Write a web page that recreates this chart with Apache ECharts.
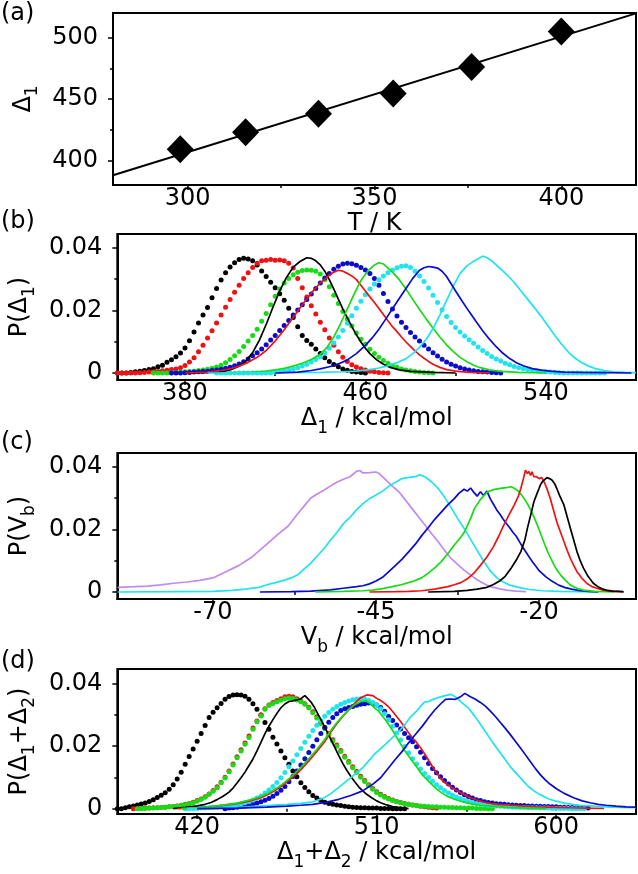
<!DOCTYPE html>
<html><head><meta charset="utf-8">
<script src="https://cdn.jsdelivr.net/npm/echarts@6/dist/echarts.min.js"></script>
<style>html,body{margin:0;padding:0;background:#fff}#c{width:638px;height:874px}</style>
</head><body><div id="c"></div>
<script>
// ---------- Panel (a) ----------
const aT = [298, 315.5, 335, 355, 376, 400];
const aD1 = [409, 423, 438, 454.5, 476, 505];
const aFit = [[280, 388], [420, 519.7]];

// ---------- Panel (b): dotted series, sampled every 2 kcal/mol ----------
const bBlackDotX0 = 350;
const bBlackDotY = [0,0,0,.0002,.0004,.0006,.0008,.0011,.0014,.002,.0025,.0034,.0042,.0052,.0064,.008,.0103,.0131,.016,.0185,.0209,.024,.027,.0297,.032,.0338,.0352,.0362,.0366,.0364,.0358,.0345,.0326,.0308,.029,.0272,.0253,.0232,.0207,.0177,.0148,.012,.0104,.0092,.0077,.0062,.0049,.0037,.0027,.002,.0013,.0009,.0005,.0003,.0002,0];
const bRedDotX0 = 350;
const bRedDotY = [0,0,0,0,0,.0001,.0002,.0003,.0004,.0005,.0007,.0009,.0011,.0013,.0017,.0024,.0035,.0049,.0068,.0089,.0112,.0135,.016,.0185,.021,.0235,.0258,.028,.0302,.032,.0337,.035,.0358,.036,.0362,.036,.0361,.0358,.035,.0335,.0302,.0272,.0243,.0215,.0188,.0162,.0138,.0112,.0089,.0068,.005,.0037,.0026,.0019,.0014,.001,.0006,.0004,.0002,.0001,0];
const bGreenDotX0 = 366;
const bGreenDotY = [0,0,0,0,.0001,.0002,.0003,.0004,.0005,.0006,.0008,.001,.0012,.0015,.0019,.0025,.0033,.0043,.0055,.0069,.0085,.0102,.012,.014,.0165,.019,.0218,.0245,.0268,.0287,.0302,.0314,.0322,.0327,.0329,.0328,.0325,.0316,.0298,.0275,.0248,.0222,.0196,.0172,.015,.0128,.0108,.0092,.0076,.0062,.005,.004,.0031,.0024,.0018,.0013,.001,.0007,.0005,.0003,.0002,.0001,0];
const bBlueDotX0 = 374;
const bBlueDotY = [0,0,0,.0001,.0002,.0003,.0004,.0005,.0006,.0008,.001,.0012,.0015,.0018,.0023,.0029,.0036,.0045,.0055,.0065,.0077,.009,.0105,.012,.0136,.0152,.0168,.0185,.0201,.0218,.0235,.0252,.027,.0287,.0303,.0318,.0331,.0341,.0348,.035,.0349,.0344,.0337,.0329,.0318,.0302,.028,.0254,.0228,.0204,.0182,.0162,.0145,.0129,.0115,.0102,.0089,.0077,.0065,.0054,.0044,.0035,.0028,.0022,.0017,.0013,.001,.0007,.0005,.0004,.0003,.0002,.0001,0];
const bCyanDotX0 = 394;
const bCyanDotY = [0,0,0,0,0,0,0,0,0,0,0,0,0,.0003,.0005,.0007,.001,.0013,.0017,.0022,.0028,.0035,.0043,.0052,.0064,.0079,.0096,.0115,.0136,.0159,.0183,.0207,.0229,.025,.0268,.0284,.0298,.031,.032,.0329,.0336,.0341,.0342,.0337,.0325,.031,.0292,.0271,.0248,.0225,.0202,.018,.0161,.0145,.0131,.0118,.0106,.0095,.0083,.0072,.0062,.0053,.0045,.0038,.0031,.0026,.0021,.0017,.0014,.0011,.0009,.0007,.0005,.0004,.0003,.0002,.0001,0,0,0,0,0,0,0,0,0,0];

// ---------- Panel (b): solid lines, [Δ1, P] ----------
const bBlackLine = [[380,0],[395,.0003],[400,.001],[404,.0022],[407,.0038],[410,.0065],[413,.0105],[416,.0155],[419,.021],[422,.0262],[425,.0305],[428,.0338],[431,.0356],[434,.0368],[436,.0366],[438,.0358],[440,.0345],[442,.0325],[444,.0298],[446,.0268],[448,.0236],[450,.0205],[452,.0176],[454,.0148],[456,.0122],[458,.0099],[460,.0079],[462,.0062],[465,.0042],[468,.0028],[471,.0018],[475,.001],[480,.0005],[490,.0002],[500,0]];
const bRedLine = [[380,0],[390,.0003],[396,.0008],[400,.0013],[404,.0022],[408,.0034],[412,.005],[416,.0072],[420,.0102],[424,.0138],[428,.0178],[432,.0218],[436,.0255],[440,.0288],[444,.0312],[446,.0322],[448,.0328],[450,.0325],[452,.0318],[454,.031],[456,.0298],[458,.028],[460,.0262],[462,.0243],[464,.0225],[466,.0206],[468,.0187],[470,.0167],[472,.0148],[474,.0132],[476,.0115],[478,.0099],[480,.0085],[482,.0071],[484,.0058],[486,.0047],[488,.0037],[490,.0028],[493,.0018],[496,.0011],[500,.0006],[506,.0002],[515,0]];
const bGreenLine = [[400,0],[410,.0003],[416,.0006],[420,.001],[424,.0015],[428,.0022],[432,.0031],[436,.0043],[440,.006],[443,.0082],[446,.0115],[449,.0158],[452,.0205],[455,.0252],[458,.0295],[461,.0325],[464,.0345],[466,.0352],[468,.0348],[470,.0335],[472,.0322],[475,.0298],[478,.0268],[481,.0235],[484,.0203],[487,.0172],[490,.0143],[493,.0115],[496,.009],[499,.0068],[502,.005],[505,.0036],[508,.0025],[511,.0017],[515,.001],[520,.0005],[528,.0002],[540,0]];
const bBlueLine = [[420,0],[430,.0003],[436,.0008],[440,.0013],[444,.002],[448,.0029],[452,.0042],[456,.0062],[460,.0088],[463,.0112],[466,.014],[469,.0172],[472,.0205],[475,.0238],[478,.027],[481,.0302],[484,.0328],[486,.0336],[488,.034],[490,.0338],[492,.0335],[494,.0325],[496,.0308],[498,.0285],[500,.0262],[503,.0228],[506,.0196],[509,.0165],[512,.0135],[515,.0108],[518,.0084],[521,.0063],[524,.0046],[527,.0033],[530,.0023],[534,.0014],[538,.0009],[542,.0006],[548,.0003],[556,.0002],[566,.0001],[578,0]];
const bCyanLine = [[390,0],[440,.0002],[450,.0004],[456,.0006],[462,.0011],[466,.0016],[470,.0023],[474,.0033],[478,.0046],[481,.0062],[484,.0082],[487,.0108],[490,.0142],[493,.0185],[496,.0232],[499,.0278],[502,.0318],[505,.0342],[508,.0357],[510,.0365],[512,.0373],[514,.0368],[516,.0358],[518,.0345],[520,.0332],[523,.0312],[526,.0289],[529,.0262],[532,.0235],[535,.0208],[538,.018],[541,.015],[544,.012],[547,.0092],[550,.0067],[553,.0047],[556,.0033],[559,.0022],[562,.0014],[566,.0008],[570,.0004],[575,.0002],[580,.0001]];

// ---------- Panel (c): [Vb, P] ----------
const cPurple = [[-84.6,.0015],[-82,.0017],[-80,.0019],[-78,.0023],[-76,.0028],[-74,.0032],[-72,.0037],[-70,.0045],[-68,.0065],[-66,.0085],[-64,.0112],[-62,.0148],[-60,.0185],[-58.5,.021],[-57,.025],[-56,.0275],[-55,.03],[-54,.0313],[-53,.0325],[-52,.0338],[-51,.035],[-50,.036],[-49,.0368],[-48,.0385],[-47.5,.0388],[-47,.038],[-46,.0381],[-45,.0383],[-44.5,.0378],[-43.5,.0358],[-42.5,.0338],[-41.5,.032],[-40.5,.0294],[-39.5,.0267],[-38.5,.024],[-37.5,.0214],[-36.5,.0187],[-35.5,.0161],[-34.5,.0133],[-33.5,.0107],[-32.5,.0088],[-31.5,.007],[-30.5,.0054],[-29.5,.0039],[-28.5,.0027],[-27.5,.0017],[-26,.001],[-25,.0006],[-23.5,.0003],[-22,.0001]];
const cCyan = [[-84.6,0],[-76,.0001],[-70,.0002],[-67,.0005],[-65,.0009],[-63,.0015],[-61,.0027],[-59,.0038],[-58,.0045],[-57,.0055],[-56,.0074],[-55,.0092],[-54,.0115],[-53,.0138],[-52,.0165],[-51,.019],[-50,.0218],[-49,.0238],[-48,.0262],[-47,.0282],[-46,.0298],[-45,.031],[-44,.0322],[-43,.0338],[-42,.035],[-41,.0362],[-40,.0366],[-39,.0368],[-38.3,.0374],[-37.5,.0368],[-36.5,.0352],[-35.5,.0331],[-34.5,.0303],[-33.5,.027],[-32.5,.0235],[-31.5,.0203],[-30.5,.0168],[-29.5,.0133],[-28.5,.0098],[-27.5,.0068],[-26.5,.0046],[-25.5,.0032],[-24.5,.0022],[-23,.0014],[-21.5,.0008],[-19.5,.0004],[-17,.0002],[-14,.0001],[-11,0]];
const cBlue = [[-62.8,0],[-58,.0001],[-55,.0003],[-52,.0007],[-50,.0012],[-48,.0017],[-47,.002],[-46,.0026],[-45,.0035],[-44,.0047],[-43,.0066],[-42,.0085],[-41,.0105],[-40,.0128],[-39,.0152],[-38,.018],[-37,.0205],[-36,.0232],[-35,.0255],[-34,.0278],[-33,.0298],[-32.3,.0315],[-31.5,.0328],[-31,.0322],[-30.5,.0332],[-30,.0318],[-29.5,.0306],[-29,.032],[-28.5,.0308],[-28,.0322],[-27.5,.0298],[-27,.028],[-26.5,.0262],[-26,.0248],[-25.5,.0232],[-25,.0218],[-24.5,.0205],[-24,.019],[-23.5,.0178],[-23,.016],[-22.5,.0143],[-22,.0127],[-21.5,.0111],[-21,.0096],[-20.5,.0082],[-20,.0068],[-19,.0049],[-18,.0034],[-17,.0022],[-16,.0014],[-15,.0009],[-14,.0005],[-12.5,.0002],[-10.9,0]];
const cGreen = [[-54.3,0],[-50,.0002],[-47,.0004],[-45.5,.0006],[-44,.0011],[-42.5,.0017],[-41,.0024],[-39.5,.0033],[-38,.0045],[-37,.006],[-36,.0077],[-35,.0097],[-34,.0122],[-33,.015],[-32,.0175],[-31.4,.0193],[-30.5,.0235],[-29.9,.0267],[-29,.0295],[-28,.0318],[-27,.0327],[-26,.0331],[-25,.0333],[-24.3,.0336],[-23.8,.0331],[-23.2,.0322],[-22.7,.031],[-22.2,.0295],[-21.7,.0278],[-21.2,.0258],[-20.7,.0235],[-20.2,.021],[-19.7,.0182],[-19.2,.0155],[-18.7,.0129],[-18.2,.0107],[-17.7,.0086],[-17.2,.0068],[-16.7,.0054],[-16,.0038],[-15.2,.0022],[-14.2,.0012],[-13.2,.0006],[-11.5,.0002],[-8.4,0]];
const cRed = [[-46,0],[-42,.0001],[-40,.0002],[-38,.0004],[-36,.0009],[-34,.0017],[-33,.0023],[-32,.003],[-31,.0042],[-30,.006],[-29,.0085],[-28,.0112],[-27,.0145],[-26.2,.0178],[-25.4,.0214],[-24.6,.0247],[-23.8,.0278],[-23.2,.0305],[-22.8,.0331],[-22.4,.0362],[-22.1,.0389],[-21.8,.0378],[-21.6,.0385],[-21.3,.0372],[-21.1,.0384],[-20.8,.0368],[-20.4,.0368],[-20,.0362],[-19.6,.0365],[-19.2,.035],[-18.8,.033],[-18.3,.0299],[-17.8,.0262],[-17.3,.0224],[-16.7,.019],[-16.2,.0161],[-15.7,.0133],[-15.2,.0107],[-14.7,.0085],[-14.2,.0065],[-13.4,.0043],[-12.7,.0028],[-12,.0018],[-11.2,.0012],[-10.2,.0006],[-9.2,.0003],[-7.6,.0001],[-7,0]];
const cBlack = [[-37,0],[-33,.0002],[-31,.0005],[-29.5,.0009],[-28,.0015],[-27,.0024],[-26,.0036],[-25.2,.005],[-24.3,.0076],[-23.5,.0102],[-22.8,.0129],[-22.2,.0165],[-21.8,.0203],[-21.3,.0245],[-20.8,.0288],[-20.4,.031],[-20,.0331],[-19.8,.0342],[-19.5,.0352],[-19.2,.0358],[-18.8,.0365],[-18.4,.0362],[-18,.0357],[-17.6,.0345],[-17.3,.0331],[-16.8,.0305],[-16.2,.0278],[-15.7,.024],[-15.2,.0203],[-14.7,.0166],[-14.2,.0129],[-13.7,.01],[-13.2,.0076],[-12.5,.005],[-11.7,.0028],[-11,.0017],[-10.2,.0009],[-9.5,.0005],[-8.7,.0003],[-7.1,.0001]];

// ---------- Panel (d): dotted series, sampled every 2 kcal/mol ----------
const dBlackDotX0 = 380;
const dBlackDotY = [0,0,.0003,.0006,.0009,.0012,.0015,.0018,.0023,.0029,.0036,.0043,.0051,.0062,.0077,.0095,.0117,.0142,.0167,.0191,.0216,.0241,.0266,.0292,.0309,.0323,.0337,.035,.0359,.0364,.0365,.0364,.036,.035,.0336,.0318,.0299,.0276,.0254,.0229,.0207,.0185,.0163,.0142,.0121,.0102,.0083,.0068,.0054,.0042,.0034,.0027,.0021,.0017,.0014,.0012,.001,.0008,.0006,.0005,.0004,.0003,.0003,.0002,.0002,.0002,.0001,.0001,.0001,0,0,0,0];
const dRedDotX0 = 388;
const dRedDotY = [0,.0001,.0001,.0002,.0002,.0003,.0003,.0004,.0005,.0006,.0007,.0009,.0011,.0014,.0017,.0021,.0026,.0031,.0038,.0047,.0058,.007,.0085,.0101,.0121,.0143,.0166,.0189,.021,.0233,.0258,.0281,.0301,.032,.0332,.034,.0346,.0352,.0358,.036,.0358,.0352,.0345,.0336,.0325,.031,.0294,.0277,.026,.0241,.0221,.0204,.0186,.0168,.0151,.0134,.0119,.0104,.009,.0077,.0065,.0054,.0046,.0039,.0033,.0028,.0023,.002,.0017,.0014,.0012,.001,.0008,.0006,.0005,.0003,.0002];
const dGreenDotX0 = 390;
const dGreenDotY = [0,.0001,.0001,.0002,.0002,.0003,.0004,.0005,.0006,.0007,.0008,.0011,.0013,.0016,.0019,.0024,.003,.0037,.0046,.0056,.0067,.0083,.0098,.0118,.014,.0163,.0185,.0206,.0228,.0254,.0278,.0297,.0318,.0331,.0337,.0342,.0347,.0352,.0354,.0353,.0348,.0342,.0334,.0322,.0307,.029,.0273,.0256,.0237,.0217,.02,.0183,.0165,.0148,.0131,.0116,.0101,.0087,.0074,.0062,.0052,.0044,.0037,.0031,.0026,.0022,.0019,.0016,.0014,.0012,.001,.0009,.0008,.0007,.0006,.0006,.0005,.0005,.0004,.0004,.0003,.0003,.0002,.0002,.0002,.0001,.0001,.0001,0,0];
const dBlueDotX0 = 434;
const dBlueDotY = [0,.0002,.0003,.0005,.0007,.0009,.0011,.0014,.0018,.0022,.0027,.0033,.004,.0049,.0059,.0071,.0086,.0103,.0121,.014,.016,.018,.02,.0221,.0241,.026,.0277,.0292,.0304,.0314,.032,.0324,.0327,.0331,.0334,.0336,.0338,.0337,.0332,.0324,.0312,.0295,.0282,.0268,.0255,.0241,.0227,.0214,.0198,.0181,.0163,.0145,.0129,.0115,.0102,.009,.0079,.0069,.006,.0052,.0045,.0039,.0034,.0029,.0026,.0022,.002,.0018,.0016,.0015,.0014,.0013,.0012,.0011,.001,.001,.0009,.0009,.0008,.0008,.0007,.0007,.0006,.0006,.0005,.0005,.0004,.0004,.0003,.0003,.0002,.0002];
const dCyanDotX0 = 414;
const dCyanDotY = [0,0,.0001,.0001,.0002,.0002,.0003,.0004,.0005,.0006,.0007,.0009,.0011,.0013,.0016,.0019,.0023,.0028,.0034,.0041,.005,.006,.0071,.0084,.0099,.0116,.0134,.0153,.0173,.0193,.0213,.0232,.025,.0267,.0282,.0296,.0308,.0318,.0327,.0334,.034,.0345,.0349,.0351,.0352,.035,.0346,.034,.0332,.032,.0304,.0285,.0264,.0242,.022,.0199,.0179,.016,.0143,.0127,.0113,.01,.0088,.0077,.0067,.0058,.005,.0043,.0037,.0032,.0027,.0023,.002,.0017,.0015,.0013,.0011,.001,.0009,.0008,.0007,.0006,.0005,.0005,.0004,.0004,.0003,.0003,.0003,.0002,.0002,.0002,.0001,.0001,.0001,.0001,.0001,0,0,0,0];

// ---------- Panel (d): solid lines, [Δ1+Δ2, P] ----------
const dBlackLine = [[408,0],[414,.0004],[420,.0009],[424,.0014],[427,.002],[430,.0029],[433,.004],[436,.0053],[438,.0066],[440,.0082],[442,.0099],[444,.0117],[446,.0138],[448,.0159],[450,.0185],[452,.0212],[454,.024],[456,.0264],[458,.0285],[460,.0305],[462,.0323],[464,.0335],[466,.0343],[468,.0345],[470,.0348],[472,.0352],[474,.0362],[475.5,.0352],[477,.0342],[479,.0322],[481,.0298],[483,.0273],[485,.0248],[487,.0222],[489,.0196],[491,.017],[493,.0145],[495,.0123],[497,.0104],[499,.0086],[501,.007],[503,.0057],[505,.0046],[507.5,.0035],[510,.0025],[512,.0019],[515,.0012],[518,.0007],[522,.0003],[526,0]];
const dRedLine = [[410,0],[420,.0003],[430,.0008],[440,.0016],[446,.0024],[452,.0035],[456,.0047],[460,.0062],[464,.008],[468,.0101],[472,.0125],[476,.0153],[480,.0183],[484,.0215],[487,.0245],[490,.0272],[493,.0295],[496,.0316],[499,.0338],[502,.0355],[505,.0364],[508,.0362],[510,.0353],[512,.0346],[514,.0337],[516,.0326],[518,.0311],[520,.0295],[522,.0279],[524,.0261],[526,.0243],[528,.0226],[530,.0212],[532,.0195],[534,.0176],[536,.0155],[538,.0134],[540,.0115],[542,.0097],[544,.0084],[546,.0075],[548,.0066],[551,.0055],[554,.0045],[557,.0035],[561,.0026],[565,.0019],[570,.0014],[577,.0011],[584,.0008],[590,.0006],[600,.0004],[607,.0003],[615,.0002],[624,.0001]];
const dGreenLine = [[412,0],[420,.0003],[430,.0009],[440,.0018],[446,.0027],[452,.0039],[456,.0051],[460,.0066],[464,.0085],[468,.0107],[472,.0132],[476,.016],[480,.019],[484,.0222],[487,.025],[490,.0275],[493,.0297],[496,.0318],[499,.0333],[502,.0343],[505,.0345],[507,.0335],[509,.0322],[511,.0312],[513,.0295],[515,.0279],[518,.025],[521,.0218],[524,.0186],[527,.016],[530,.0134],[533,.0107],[536,.0088],[539,.0069],[542,.0053],[545,.0041],[549,.003],[553,.0022],[557,.0016],[562,.0011],[566,.0009],[575,.0004],[585,.0002],[595,0]];
const dCyanLine = [[415,0],[430,.0002],[445,.0006],[455,.001],[465,.0014],[472,.0017],[478,.0022],[483,.0033],[487,.0048],[491,.0068],[495,.0089],[499,.011],[503,.0131],[506,.0153],[509,.0175],[512,.0192],[515,.021],[518,.0228],[521,.0246],[524,.0268],[527,.0294],[530,.0312],[532,.0328],[534,.0341],[536,.0343],[538,.0349],[541,.0356],[544,.0361],[547,.0366],[549,.036],[551,.035],[553,.0338],[556,.0322],[559,.0297],[562,.027],[565,.0242],[568,.0213],[571,.0187],[574,.0161],[577,.0134],[580,.0113],[583,.0092],[586,.0071],[589,.0056],[592,.0045],[596,.0032],[600,.0024],[604,.0018],[608,.0014],[612,.0011],[617,.0009],[622,.0007],[627,.0005],[633,.0004],[640,.0003]];
const dBlueLine = [[420,0],[440,.0002],[455,.0005],[465,.0008],[472,.0011],[478,.0014],[485,.0021],[491,.003],[497,.0042],[503,.0057],[508,.0078],[512,.0099],[516,.0131],[519,.0155],[523,.0185],[526,.0211],[529.5,.0238],[533,.0265],[536,.0291],[539,.0315],[542,.0335],[544.5,.035],[547,.0351],[549.5,.035],[552,.0358],[554.2,.0369],[557,.0358],[559.5,.035],[562,.034],[564.5,.0328],[567,.0312],[569.5,.0295],[572,.0276],[574.5,.0257],[577,.0237],[579.5,.0216],[582,.0195],[584.5,.0173],[587,.0151],[589.5,.0129],[592,.0109],[594.5,.0092],[597,.0078],[600.5,.0062],[604,.0049],[608.7,.0035],[613,.0025],[617,.0019],[621,.0014],[625,.0011],[630,.0008],[635,.0006],[640,.0005]];

// ---------- Axis ticks ----------
const aXTicks = [300, 350, 400], aXMinor = [325, 375];
const aYTicks = [400, 450, 500], aYMinor = [425, 475];
const bXTicks = [380, 460, 540], bXMinor = [420, 500];
const cXTicks = [-70, -45, -20], cXMinor = [-57.5, -32.5];
const dXTicks = [420, 510, 600], dXMinor = [465, 555];
const pTicks = [0, 0.02, 0.04], pMinor = [0.01, 0.03];

// ---------- Styling / layout ----------
const FONT = 'DejaVu Sans';
const FS = 24;
const COL = {black:'#000000', red:'#f01212', green:'#16dc16', blue:'#0a0ad0', cyan:'#1ee4ee', purple:'#c08aee'};
const grids = [
  {left:113, right:2, top:13, height:172},
  {left:113, right:2, top:234, height:146},
  {left:113, right:2, top:453, height:146},
  {left:113, right:2, top:669, height:145}
];
const rich = {
  m:{fontSize:FS, fontFamily:FONT, color:'#000', lineHeight:28, verticalAlign:'top'},
  s:{fontSize:17, fontFamily:FONT, color:'#000', lineHeight:17, padding:[13,0,0,0], verticalAlign:'top'}
};
const xAxes = [], yAxes = [];
function addAxes(g, xmin, xmax, xt, xm, ymin, ymax, yt, ym, xName, yName, xGap, yGap) {
  const tickStyle = {color:'#000', width:1.5};
  xAxes.push({type:'value', gridIndex:g, min:xmin, max:xmax, position:'bottom',
    axisLine:{show:true, onZero:false, lineStyle:{color:'#000', width:2}},
    axisTick:{show:true, inside:false, length:5, lineStyle:tickStyle, customValues:xt},
    axisLabel:{show:true, customValues:xt, margin:2, color:'#000', fontSize:FS, fontFamily:FONT},
    splitLine:{show:false},
    name:xName, nameLocation:'middle', nameGap:xGap, nameTextStyle:{rich:rich, fontSize:FS, fontFamily:FONT, color:'#000'}});
  xAxes.push({type:'value', gridIndex:g, min:xmin, max:xmax, position:'bottom',
    axisLine:{show:false}, axisTick:{show:true, inside:false, length:3, lineStyle:tickStyle, customValues:xm},
    axisLabel:{show:false}, splitLine:{show:false}});
  yAxes.push({type:'value', gridIndex:g, min:ymin, max:ymax, position:'left',
    axisLine:{show:true, onZero:false, lineStyle:{color:'#000', width:2}},
    axisTick:{show:true, inside:false, length:5, lineStyle:tickStyle, customValues:yt},
    axisLabel:{show:true, customValues:yt, margin:15, color:'#000', fontSize:FS, fontFamily:FONT},
    splitLine:{show:false},
    name:yName, nameLocation:'middle', nameGap:yGap, nameTextStyle:{rich:rich, fontSize:FS, fontFamily:FONT, color:'#000'}});
  yAxes.push({type:'value', gridIndex:g, min:ymin, max:ymax, position:'left',
    axisLine:{show:false}, axisTick:{show:true, inside:false, length:3, lineStyle:tickStyle, customValues:ym},
    axisLabel:{show:false}, splitLine:{show:false}});
}
addAxes(0, 280, 420, aXTicks, aXMinor, 380, 520, aYTicks, aYMinor, '{m|T / K}', '{m|Δ}{s|1}', 19, 70);
addAxes(1, 350, 580, bXTicks, bXMinor, -0.00223, 0.04437, pTicks, pMinor, '{m|Δ}{s|1}{m| / kcal/mol}', '{m|P(Δ}{s|1}{m|)}', 16, 80);
addAxes(2, -84.65, -5.15, cXTicks, cXMinor, -0.00223, 0.04437, pTicks, pMinor, '{m|V}{s|b}{m| / kcal/mol}', '{m|P(V}{s|b}{m|)}', 19, 80);
addAxes(3, 380, 640, dXTicks, dXMinor, -0.0017, 0.0447, pTicks, pMinor, '{m|Δ}{s|1}{m|+Δ}{s|2}{m| / kcal/mol}', '{m|P(Δ}{s|1}{m|+Δ}{s|2}{m|)}', 23, 80);

function seq(x0, ys) { return ys.map((y, i) => [x0 + 2 * i, y]); }
function dots(g, data, color) {
  return {type:'scatter', xAxisIndex:2*g, yAxisIndex:2*g, data:data, symbol:'circle', symbolSize:5,
    itemStyle:{color:color, opacity:1}, silent:true, clip:true};
}
function line(g, data, color, w) {
  return {type:'line', xAxisIndex:2*g, yAxisIndex:2*g, data:data, showSymbol:false, symbol:'none',
    lineStyle:{color:color, width:w || 1.7}, silent:true, clip:true};
}

const series = [
  // (a)
  line(0, aFit, '#000', 2),
  {type:'scatter', xAxisIndex:0, yAxisIndex:0, data:aT.map((t, i) => [t, aD1[i]]), symbol:'diamond',
    symbolSize:[27, 28], itemStyle:{color:'#000', opacity:1}, silent:true},
  // (b)
  dots(1, seq(bBlackDotX0, bBlackDotY), COL.black),
  line(1, bBlackLine, COL.black),
  dots(1, seq(bRedDotX0, bRedDotY), COL.red),
  line(1, bRedLine, COL.red),
  dots(1, seq(bGreenDotX0, bGreenDotY), COL.green),
  line(1, bGreenLine, COL.green),
  dots(1, seq(bBlueDotX0, bBlueDotY), COL.blue),
  dots(1, seq(bCyanDotX0, bCyanDotY), COL.cyan),
  line(1, bCyanLine, COL.cyan),
  line(1, bBlueLine, COL.blue),
  // (c)
  line(2, cPurple, COL.purple),
  line(2, cCyan, COL.cyan),
  line(2, cBlue, COL.blue),
  line(2, cGreen, COL.green),
  line(2, cRed, COL.red),
  line(2, cBlack, COL.black),
  // (d)
  dots(3, seq(dBlackDotX0, dBlackDotY), COL.black),
  line(3, dBlackLine, COL.black),
  dots(3, seq(dRedDotX0, dRedDotY), COL.red),
  dots(3, seq(dGreenDotX0, dGreenDotY), COL.green),
  line(3, dRedLine, COL.red),
  line(3, dGreenLine, COL.green),
  dots(3, seq(dBlueDotX0, dBlueDotY), COL.blue),
  dots(3, seq(dCyanDotX0, dCyanDotY), COL.cyan),
  line(3, dCyanLine, COL.cyan),
  line(3, dBlueLine, COL.blue)
];

const panelLabels = ['(a)', '(b)', '(c)', '(d)'];
const panelLabelTop = [0, 208, 429, 648];
const chart = echarts.init(document.getElementById('c'), null, {renderer:'canvas'});
chart.setOption({
  animation:false,
  backgroundColor:'#fff',
  title: panelLabels.map((t, i) => ({text:t, left:1, top:panelLabelTop[i], padding:0,
    textStyle:{fontSize:FS, fontWeight:'normal', fontFamily:FONT, color:'#000', lineHeight:28}})),
  grid: grids.map(g => Object.assign({show:true, borderColor:'#000', borderWidth:2, backgroundColor:'transparent'}, g)),
  xAxis: xAxes,
  yAxis: yAxes,
  series: series
});
</script></body></html>
